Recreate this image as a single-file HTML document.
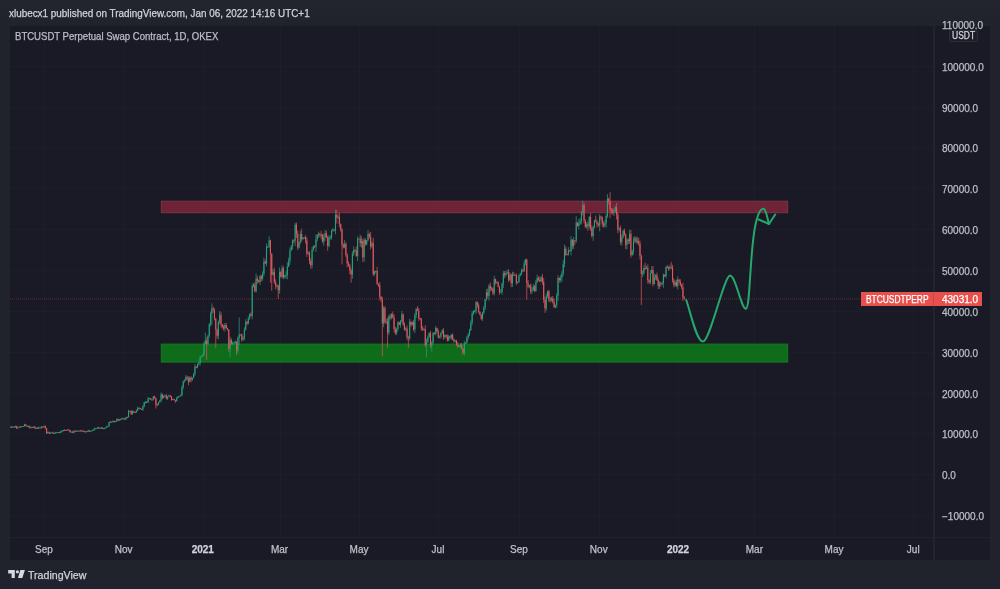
<!DOCTYPE html>
<html><head><meta charset="utf-8"><style>
*{margin:0;padding:0;box-sizing:border-box}
html,body{width:1000px;height:589px;overflow:hidden}
body{background:linear-gradient(#22242e 0px,#20222c 26px,#20222c 560px,#20222d 589px);font-family:"Liberation Sans",Arial,sans-serif;position:relative;-webkit-text-stroke:0.25px currentColor}
#hdr{position:absolute;left:8.5px;top:6.5px;font-size:10.5px;transform:scaleX(0.943);transform-origin:0 0;color:#d1d4dc;white-space:nowrap;letter-spacing:0}
#panel{position:absolute;left:10px;top:26px;width:980px;height:534px;background:#191a25;overflow:visible}
#legend{position:absolute;left:4.5px;top:4.6px;font-size:10.4px;transform:scaleX(0.92);transform-origin:0 0;color:#bcbfc6;white-space:nowrap}
#vax{position:absolute;left:923px;top:0;width:2px;height:534px;background:#22232e}
#hax{position:absolute;left:0;top:511px;width:980px;height:1px;background:#20212c}
.pl{position:absolute;left:932px;font-size:10px;line-height:14px;color:#bcbfc7;white-space:nowrap}
.tl{position:absolute;top:517px;width:40px;text-align:center;font-size:10px;line-height:14px;color:#bec1c8}
.tl.b{font-weight:bold;color:#d1d4dc}
#usdt{position:absolute;left:939px;top:3.5px;width:29px;height:12px;background:#1c1d27;border:1px solid #2a2c37;border-radius:2px;font-size:10px;line-height:10px;color:#d1d4dc;text-align:center}
#usdt span{display:inline-block;transform:scaleX(0.85);position:relative;top:0.6px}
#plbl{position:absolute;left:851px;top:266px;width:121px;height:14px;background:#e8504e;color:#fff;font-size:10px;line-height:14px}
#plbl span{position:absolute;top:1px}
#foot{position:absolute;left:28px;top:568.5px;height:14px;font-size:10.6px;color:#d1d4dc;white-space:nowrap}
</style></head><body>
<div id="hdr">xlubecx1 published on TradingView.com, Jan 06, 2022 14:16 UTC+1</div>
<div id="panel">
<svg width="980" height="534" viewBox="0 0 980 534" style="position:absolute;left:0;top:0"><g stroke="#1d1e29" stroke-width="1"><line x1="34.5" y1="0" x2="34.5" y2="511" /><line x1="114.5" y1="0" x2="114.5" y2="511" /><line x1="193.5" y1="0" x2="193.5" y2="511" /><line x1="270.5" y1="0" x2="270.5" y2="511" /><line x1="349.5" y1="0" x2="349.5" y2="511" /><line x1="428.5" y1="0" x2="428.5" y2="511" /><line x1="509.5" y1="0" x2="509.5" y2="511" /><line x1="589.5" y1="0" x2="589.5" y2="511" /><line x1="668.5" y1="0" x2="668.5" y2="511" /><line x1="744.5" y1="0" x2="744.5" y2="511" /><line x1="824.5" y1="0" x2="824.5" y2="511" /><line x1="903.5" y1="0" x2="903.5" y2="511" /><line x1="0" y1="40.5" x2="923" y2="40.5" /><line x1="0" y1="81.5" x2="923" y2="81.5" /><line x1="0" y1="121.5" x2="923" y2="121.5" /><line x1="0" y1="162.5" x2="923" y2="162.5" /><line x1="0" y1="203.5" x2="923" y2="203.5" /><line x1="0" y1="244.5" x2="923" y2="244.5" /><line x1="0" y1="285.5" x2="923" y2="285.5" /><line x1="0" y1="326.5" x2="923" y2="326.5" /><line x1="0" y1="367.5" x2="923" y2="367.5" /><line x1="0" y1="407.5" x2="923" y2="407.5" /><line x1="0" y1="448.5" x2="923" y2="448.5" /><line x1="0" y1="489.5" x2="923" y2="489.5" /></g><rect x="151.3" y="175.2" width="626.4000000000001" height="11.5" fill="#6e2436" stroke="#7b3446" stroke-width="1"/><rect x="151.3" y="318.1" width="626.4000000000001" height="18" fill="#0e6c1b" stroke="#147a22" stroke-width="1"/><line x1="0" y1="272.92" x2="923" y2="272.92" stroke="#ef5350" stroke-opacity="0.32" stroke-width="1" stroke-dasharray="1 1"/><path d="M0.17 400.36V400.91M2.77 400.59V401.44M5.37 399.69V401.68M7.97 400.91V402.36M9.28 400.42V401.71M11.88 399.90V401.13M13.18 399.99V400.39M14.48 397.72V400.91M18.38 399.51V400.98M20.99 400.67V402.58M23.59 400.33V401.13M26.19 401.50V403.04M28.79 400.58V402.99M31.40 399.94V402.46M34.00 399.65V401.31M37.90 405.78V407.67M40.51 406.67V407.39M41.81 406.22V407.26M44.41 406.64V407.71M45.71 405.87V407.55M47.01 406.14V406.60M48.31 405.76V406.61M50.92 404.56V407.26M52.22 404.16V405.61M53.52 403.86V405.42M57.42 403.33V404.17M61.33 405.45V406.19M63.93 404.42V407.29M66.53 404.52V405.11M67.83 404.51V405.02M70.44 403.86V405.23M76.94 404.92V406.16M78.24 403.77V405.92M80.85 404.83V405.45M82.15 403.85V405.34M83.45 402.67V404.52M84.75 401.49V404.54M86.05 402.03V402.73M87.35 401.32V402.66M89.96 401.34V402.08M91.26 400.93V402.70M93.86 401.93V403.20M95.16 401.23V402.71M96.46 399.87V401.95M97.76 399.85V401.31M99.06 395.81V401.22M100.37 394.87V396.79M102.97 394.29V396.56M105.57 395.07V395.75M106.87 392.52V396.00M109.48 393.24V395.04M110.78 392.41V394.16M112.08 391.64V394.03M115.98 390.85V394.07M117.28 390.53V391.94M118.58 383.59V391.60M122.49 384.10V388.92M126.39 383.44V387.03M127.69 380.69V385.15M128.99 380.96V383.16M132.90 379.12V384.92M134.20 375.53V381.38M135.50 375.14V377.48M136.80 374.98V376.38M138.10 370.92V377.27M139.41 371.88V372.98M143.31 370.09V374.38M148.51 375.85V378.95M149.82 373.86V376.69M151.12 366.48V376.07M153.72 369.07V372.33M155.02 368.66V370.65M157.62 370.14V374.02M158.92 368.74V370.97M162.83 372.76V374.12M166.73 370.77V375.68M168.03 370.01V372.49M169.34 369.72V370.44M170.64 368.44V370.33M171.94 359.45V370.26M173.24 354.17V363.03M174.54 353.34V356.65M175.84 349.19V355.12M179.75 350.44V356.33M182.35 351.48V354.84M183.65 347.14V352.28M184.95 337.89V349.93M187.55 337.48V342.45M188.85 335.35V339.68M190.16 329.80V339.44M191.46 329.57V330.96M192.76 327.72V331.29M194.06 315.46V329.86M195.36 306.54V318.39M197.96 308.86V319.69M199.27 297.10V311.52M200.57 285.58V300.47M201.87 277.33V299.19M208.37 294.46V313.41M209.68 284.89V298.37M214.88 297.00V305.48M220.09 310.63V330.85M222.69 315.26V319.32M223.99 316.43V318.52M225.29 314.31V317.89M227.89 310.57V327.44M229.19 291.43V318.80M230.50 308.36V309.01M233.10 310.07V314.74M234.40 301.25V314.27M235.70 293.12V304.65M238.30 290.48V298.42M239.61 287.43V293.92M242.21 257.52V293.47M243.51 257.27V261.54M246.11 247.58V266.52M250.02 248.80V258.97M252.62 245.19V254.63M253.92 231.41V249.93M256.52 217.45V240.42M257.82 219.94V221.49M259.12 210.34V221.98M263.03 243.01V249.31M269.54 241.55V267.72M272.14 239.31V252.65M274.74 248.74V252.48M276.04 245.25V252.99M277.34 236.28V253.33M278.64 231.58V241.24M279.95 221.60V238.91M281.25 218.95V225.11M282.55 213.29V223.41M285.15 196.66V219.94M289.05 215.28V222.53M290.36 204.77V218.17M292.96 210.93V213.62M294.26 211.02V212.50M298.16 225.25V229.04M302.07 221.00V242.38M303.37 219.18V225.49M305.97 208.31V225.93M307.27 208.25V215.61M308.57 205.60V211.76M313.78 207.82V219.76M315.08 203.87V214.77M318.98 209.27V221.33M320.29 209.32V213.65M321.59 203.65V213.58M322.89 201.88V205.57M325.49 183.53V208.33M328.09 188.11V192.82M334.60 213.86V222.42M342.41 225.33V252.82M343.71 220.50V230.00M347.61 210.32V235.12M348.91 212.28V213.00M351.52 210.44V221.67M354.12 212.07V235.88M356.72 213.91V219.40M358.02 203.98V215.37M361.93 215.27V221.85M364.53 244.55V249.69M365.83 244.75V247.37M373.64 279.81V301.18M376.24 292.64V298.13M378.84 288.70V309.07M381.45 287.19V293.24M386.65 301.76V309.34M387.95 295.14V304.96M390.56 293.98V301.71M391.86 284.69V296.71M395.76 300.96V305.13M399.67 292.78V314.43M402.27 295.41V299.57M404.87 286.98V307.16M406.17 281.94V292.09M413.98 301.91V304.58M416.58 312.67V331.05M417.88 309.16V316.94M419.18 306.42V311.94M421.79 315.12V325.54M423.09 305.94V318.43M425.69 299.91V309.43M429.60 309.33V312.37M430.90 306.16V312.85M432.20 303.13V308.10M434.80 308.29V312.79M438.70 308.91V315.22M441.31 308.18V313.91M445.21 313.81V316.33M449.11 318.49V321.10M450.42 317.12V322.20M454.32 314.76V329.62M455.62 316.28V318.15M456.92 310.14V317.51M458.22 306.97V313.51M459.53 302.72V310.31M460.83 294.26V305.06M462.13 285.08V299.09M463.43 284.11V289.07M464.73 283.60V286.43M466.03 275.22V287.82M472.54 285.71V294.96M473.84 279.84V288.43M475.14 272.83V283.98M476.44 263.16V274.88M479.04 257.92V274.43M484.25 249.73V269.31M490.76 263.04V266.71M492.06 256.43V268.81M493.36 244.86V261.84M495.96 244.76V250.62M497.26 243.80V248.21M499.87 246.36V255.05M502.47 245.61V260.90M507.67 255.42V257.72M508.97 248.47V256.70M510.28 246.89V250.47M511.58 242.44V249.29M514.18 234.04V246.07M515.48 232.83V239.30M519.38 259.00V262.26M521.99 261.40V267.72M523.29 257.89V264.70M525.89 253.66V265.94M527.19 248.48V257.15M531.10 250.10V256.03M536.30 267.45V284.93M537.60 264.53V271.82M541.51 270.65V275.49M545.41 278.66V282.21M546.71 267.09V282.10M548.01 249.06V274.81M550.62 249.04V256.55M551.92 245.08V255.71M553.22 234.14V250.11M554.52 218.66V241.23M557.12 227.51V229.12M558.42 221.29V229.56M561.03 209.99V229.43M563.63 210.96V223.33M566.23 190.10V216.70M568.83 193.01V203.45M570.14 191.90V198.99M571.44 184.90V198.54M572.74 174.60V189.30M576.64 196.33V202.52M579.24 189.97V202.90M583.15 199.87V214.84M584.45 193.73V202.52M589.66 188.16V205.25M594.86 194.09V201.41M596.16 187.76V201.57M597.46 168.20V191.84M603.97 181.77V189.97M605.27 179.41V186.68M609.17 201.47V205.47M611.78 208.43V219.62M613.08 203.57V212.69M616.98 212.56V223.50M619.58 203.69V217.97M622.19 223.63V229.72M623.49 210.91V228.66M624.79 209.95V216.74M627.39 210.86V218.06M632.60 244.11V251.10M633.90 239.15V249.09M636.50 239.92V242.89M640.41 244.04V258.44M641.71 240.31V247.91M644.31 247.42V258.68M645.61 248.36V254.00M649.51 255.05V262.92M652.12 255.41V258.99M653.42 247.47V261.78M656.02 240.15V252.39M659.93 238.82V243.88M665.13 254.35V261.09M667.73 250.32V263.36" stroke="#2aa07c" stroke-width="0.7" fill="none"/><path d="M1.47 400.32V401.40M4.07 400.07V401.11M6.67 399.66V403.10M10.58 400.40V401.17M15.78 397.99V400.21M17.08 399.34V401.04M19.69 399.65V402.48M22.29 400.74V401.51M24.89 399.85V402.98M27.49 401.32V402.88M30.10 401.50V402.29M32.70 400.59V401.58M35.30 399.48V402.95M36.60 401.93V408.05M39.21 405.40V408.26M43.11 405.63V407.98M49.62 406.01V406.79M54.82 403.21V404.70M56.12 403.74V404.12M58.72 403.28V404.36M60.03 403.89V406.41M62.63 405.05V407.11M65.23 404.36V405.58M69.14 404.53V405.08M71.74 404.37V405.08M73.04 403.80V406.03M74.34 405.08V405.64M75.64 405.07V406.25M79.55 403.92V405.67M88.65 400.66V402.52M92.56 401.23V402.69M101.67 395.54V395.91M104.27 394.59V396.48M108.17 392.48V394.70M113.38 392.29V392.91M114.68 392.40V394.00M119.89 384.74V385.36M121.19 384.16V389.08M123.79 384.85V386.70M125.09 385.55V386.78M130.30 381.83V383.51M131.60 382.83V383.60M140.71 371.98V373.92M142.01 373.41V374.45M144.61 369.56V372.49M145.91 371.49V382.52M147.21 377.45V380.15M152.42 367.69V373.36M156.32 368.23V373.39M160.23 368.91V371.52M161.53 369.91V374.75M164.13 372.67V374.53M165.43 373.94V376.80M177.14 349.74V354.15M178.44 350.25V359.24M181.05 350.25V356.38M186.25 340.04V341.87M196.66 311.44V333.91M203.17 280.34V286.72M204.47 282.27V294.34M205.77 292.24V322.06M207.07 302.45V312.55M210.98 285.89V301.50M212.28 297.63V302.68M213.58 298.76V304.57M216.18 296.92V303.00M217.48 301.70V304.56M218.78 303.27V325.74M221.39 312.44V318.88M226.59 315.53V329.01M231.80 307.49V315.81M237.00 294.94V299.45M240.91 286.21V290.79M244.81 256.21V266.28M247.41 250.05V257.77M248.71 253.68V256.74M251.32 248.72V255.43M255.22 233.37V237.89M260.43 213.81V256.70M261.73 227.29V264.88M264.33 241.64V257.88M265.63 253.27V263.25M266.93 258.36V261.11M268.23 258.34V273.05M270.84 244.61V251.73M273.44 240.33V253.09M283.85 213.46V217.37M286.45 196.51V211.95M287.75 204.53V224.04M291.66 202.71V215.90M295.56 209.24V217.56M296.86 211.37V230.76M299.47 225.21V238.26M300.77 232.19V242.82M304.67 219.25V222.24M309.88 206.92V211.27M311.18 204.74V213.43M312.48 207.81V216.77M316.38 204.66V212.11M317.68 209.66V224.83M324.19 203.50V205.50M326.79 183.79V197.47M329.40 186.70V201.29M330.70 197.57V205.64M332.00 201.97V238.32M333.30 217.19V222.43M335.90 216.10V231.05M337.20 227.31V241.42M338.50 235.31V240.60M339.81 237.77V248.28M341.11 242.41V256.70M345.01 223.18V226.04M346.31 220.51V231.04M350.22 208.85V220.93M352.82 212.84V235.75M355.42 212.23V219.75M359.32 206.66V212.69M360.63 205.95V223.44M363.23 211.77V250.17M367.13 240.80V259.11M368.43 257.43V261.03M369.74 255.96V274.20M371.04 269.89V276.10M372.34 271.00V330.23M374.94 280.11V297.62M377.54 291.84V321.66M380.15 287.87V294.36M382.75 285.47V292.35M384.05 288.32V306.38M385.35 300.82V308.60M389.25 295.77V299.16M393.16 287.44V299.96M394.46 296.39V304.69M397.06 299.36V314.11M398.36 309.81V322.06M400.97 294.73V300.98M403.57 293.84V305.26M407.47 280.12V285.14M408.77 281.91V294.87M410.08 291.79V294.33M411.38 292.01V305.10M412.68 300.02V304.82M415.28 299.32V321.15M420.49 304.81V322.05M424.39 306.39V308.69M426.99 301.49V306.57M428.29 303.49V312.38M433.50 302.07V313.83M436.10 308.75V312.15M437.40 308.29V315.62M440.01 309.64V312.90M442.61 307.26V314.30M443.91 312.41V316.86M446.51 313.66V319.65M447.81 316.09V321.93M451.72 317.25V323.45M453.02 322.06V329.01M467.33 275.23V281.73M468.63 277.24V287.13M469.94 285.35V289.39M471.24 288.16V294.11M477.74 262.56V272.74M480.35 256.49V265.50M481.65 260.61V264.78M482.95 261.39V269.29M485.55 252.47V258.49M486.85 255.45V257.57M488.15 255.10V261.33M489.45 259.88V268.86M494.66 245.07V252.08M498.56 243.16V256.11M501.17 247.53V261.15M503.77 245.91V250.08M505.07 248.83V249.67M506.37 247.12V259.21M512.88 242.64V245.99M516.78 232.60V273.86M518.08 253.98V262.31M520.69 257.44V268.12M524.59 258.86V266.21M528.49 250.31V255.09M529.80 250.67V256.26M532.40 247.84V258.89M533.70 252.23V276.92M535.00 270.59V286.93M538.90 263.83V276.01M540.21 270.95V276.56M542.81 270.04V277.47M544.11 272.83V282.23M549.31 251.18V256.74M555.82 220.22V229.78M559.73 224.00V225.52M562.33 212.96V223.08M564.93 214.02V218.54M567.53 196.09V200.44M574.04 176.49V197.52M575.34 193.25V202.17M577.94 195.45V204.80M580.55 186.94V204.70M581.85 199.12V211.61M585.75 189.55V196.09M587.05 193.71V201.65M588.35 196.50V200.75M590.96 189.52V194.20M592.26 190.53V200.92M593.56 195.25V201.68M598.76 171.62V178.66M600.07 166.02V192.16M601.37 182.00V187.91M602.67 182.21V188.76M606.57 176.94V193.46M607.87 186.04V207.25M610.48 199.59V218.63M614.38 202.50V209.75M615.68 207.17V222.97M618.28 212.29V218.10M620.89 203.90V231.65M626.09 210.51V217.57M628.69 211.73V219.80M630.00 214.57V233.49M631.30 228.52V279.17M635.20 236.69V244.04M637.80 238.26V257.67M639.10 253.26V257.84M643.01 240.00V260.60M646.91 246.49V255.00M648.21 251.76V262.95M650.82 255.97V260.96M654.72 248.48V251.11M657.32 238.87V242.31M658.62 240.39V245.02M661.23 235.87V242.61M662.53 238.82V256.59M663.83 252.26V261.23M666.43 253.43V261.19M669.03 252.69V257.38M670.34 253.25V260.20M671.64 257.79V263.14M672.94 256.70V275.09M674.24 270.16V273.52" stroke="#e2585e" stroke-width="0.7" fill="none"/><path d="M0.17 400.66V401.66M2.77 400.70V401.70M5.37 400.17V401.17M7.97 401.44V402.44M9.28 400.58V401.58M11.88 400.25V401.25M13.18 400.05V401.05M14.48 398.50V400.05M18.38 400.21V401.21M20.99 400.99V401.99M23.59 400.66V401.66M26.19 401.85V402.85M28.79 401.56V402.56M31.40 400.86V401.86M34.00 400.01V401.11M37.90 405.93V407.16M40.51 406.83V407.83M41.81 406.34V407.34M44.41 406.91V407.91M45.71 406.46V407.46M47.01 406.26V407.26M48.31 406.05V407.05M50.92 405.07V406.50M52.22 404.62V405.62M53.52 403.97V404.97M57.42 403.44V404.44M61.33 405.68V406.68M63.93 404.83V406.87M66.53 404.87V405.87M67.83 404.70V405.70M70.44 404.42V405.42M76.94 405.11V406.11M78.24 404.62V405.62M80.85 405.11V406.11M82.15 404.09V405.11M83.45 403.52V404.52M84.75 402.54V403.54M86.05 402.21V403.21M87.35 401.52V402.52M89.96 402.01V403.01M91.26 401.72V402.72M93.86 402.25V403.25M95.16 401.68V402.68M96.46 400.70V401.70M97.76 400.01V401.01M99.06 396.33V400.01M100.37 395.68V396.68M102.97 395.10V396.10M105.57 395.31V396.31M106.87 392.94V395.31M109.48 393.72V394.72M110.78 393.31V394.31M112.08 392.33V393.33M115.98 391.39V393.35M117.28 390.90V391.90M118.58 385.01V390.90M122.49 385.46V388.12M126.39 384.57V386.16M127.69 382.20V384.57M128.99 382.03V383.03M132.90 380.40V383.50M134.20 376.56V380.40M135.50 375.99V376.99M136.80 375.91V376.91M138.10 372.47V375.91M139.41 372.31V373.31M143.31 370.43V373.66M148.51 376.31V378.68M149.82 374.43V376.31M151.12 368.23V374.43M153.72 370.19V372.02M155.02 369.37V370.37M157.62 370.47V372.51M158.92 369.61V370.61M162.83 372.96V373.96M166.73 371.90V375.05M168.03 370.39V371.90M169.34 369.98V370.98M170.64 369.33V370.33M171.94 361.53V369.33M173.24 355.56V361.53M174.54 354.21V355.56M175.84 351.23V354.21M179.75 351.40V355.81M182.35 351.76V353.76M183.65 347.76V351.76M184.95 340.49V347.76M187.55 338.08V341.35M188.85 336.93V338.08M190.16 330.89V336.93M191.46 330.23V331.23M192.76 328.72V330.23M194.06 317.45V328.72M195.36 314.79V317.45M197.96 309.85V318.10M199.27 298.29V309.85M200.57 287.87V298.29M201.87 282.56V287.87M208.37 295.96V309.77M209.68 288.77V295.96M214.88 299.07V302.50M220.09 314.10V322.68M222.69 316.80V317.80M223.99 316.47V317.47M225.29 315.65V316.65M227.89 311.98V324.39M229.19 308.50V311.98M230.50 308.50V309.50M233.10 311.69V313.45M234.40 303.64V311.69M235.70 295.64V303.64M238.30 292.29V297.84M239.61 288.32V292.29M242.21 259.97V289.79M243.51 258.83V259.97M246.11 252.74V265.20M250.02 250.25V255.97M252.62 247.72V252.87M253.92 235.67V247.72M256.52 220.39V237.59M257.82 220.39V221.39M259.12 214.18V220.39M263.03 245.76V248.98M269.54 245.96V264.30M272.14 242.24V251.07M274.74 249.52V251.11M276.04 249.03V250.03M277.34 240.49V249.03M278.64 234.73V240.49M279.95 224.52V234.73M281.25 220.51V224.52M282.55 214.51V220.51M285.15 198.74V214.83M289.05 216.26V221.41M290.36 208.05V216.26M292.96 211.65V213.20M294.26 211.36V212.36M298.16 226.72V227.72M302.07 223.90V239.14M303.37 220.51V223.90M305.97 213.28V220.84M307.27 208.79V213.28M308.57 208.01V209.01M313.78 210.95V215.61M315.08 207.15V210.95M318.98 211.40V219.94M320.29 211.36V212.36M321.59 204.54V211.36M322.89 203.60V204.60M325.49 188.98V204.17M328.09 190.69V191.69M334.60 218.02V221.17M342.41 228.03V248.53M343.71 223.90V228.03M347.61 212.79V229.95M348.91 212.46V213.46M351.52 215.04V217.37M354.12 213.94V231.21M356.72 214.30V218.18M358.02 207.97V214.30M361.93 216.88V220.51M364.53 245.59V247.92M365.83 244.94V245.94M373.64 282.11V297.56M376.24 295.39V296.39M378.84 290.41V306.66M381.45 288.16V291.84M386.65 302.95V307.28M387.95 296.17V302.95M390.56 295.19V298.82M391.86 288.57V295.19M395.76 302.46V303.52M399.67 295.96V312.26M402.27 296.17V298.82M404.87 289.30V303.48M406.17 283.18V289.30M413.98 303.27V304.27M416.58 315.94V319.29M417.88 311.12V315.94M419.18 307.11V311.12M421.79 316.84V319.65M423.09 306.95V316.84M425.69 302.01V307.81M429.60 310.63V311.63M430.90 307.11V310.63M432.20 304.54V307.11M434.80 308.91V311.08M438.70 310.59V314.39M441.31 308.75V311.81M445.21 314.63V315.63M449.11 319.90V320.90M450.42 318.88V319.90M454.32 317.41V327.01M455.62 316.71V317.71M456.92 311.53V316.71M458.22 308.63V311.53M459.53 304.09V308.63M460.83 296.45V304.09M462.13 287.51V296.45M463.43 285.30V287.51M464.73 285.26V286.26M466.03 276.19V285.26M472.54 286.44V292.65M473.84 281.75V286.44M475.14 273.78V281.75M476.44 266.47V273.78M479.04 259.65V269.78M484.25 253.31V267.24M490.76 266.02V267.02M492.06 257.69V266.02M493.36 247.19V257.69M495.96 247.31V248.94M497.26 246.33V247.33M499.87 248.58V253.85M502.47 248.25V257.32M507.67 256.01V257.01M508.97 249.23V256.01M510.28 247.39V249.23M511.58 244.33V247.39M514.18 237.22V244.70M515.48 233.46V237.22M519.38 259.16V260.46M521.99 264.22V265.49M523.29 260.54V264.22M525.89 256.26V265.04M527.19 252.01V256.26M531.10 251.35V255.48M536.30 270.72V282.48M537.60 265.32V270.72M541.51 272.19V274.23M545.41 278.93V281.09M546.71 269.78V278.93M548.01 252.05V269.78M550.62 251.68V254.01M551.92 247.51V251.68M553.22 238.36V247.51M554.52 222.64V238.36M557.12 228.23V229.23M558.42 224.19V228.23M561.03 213.85V225.29M563.63 214.34V219.94M566.23 196.78V214.38M568.83 197.35V200.01M570.14 195.27V197.35M571.44 186.12V195.27M572.74 179.09V186.12M576.64 198.29V200.78M579.24 191.02V200.13M583.15 201.19V209.89M584.45 194.41V201.19M589.66 190.41V199.51M594.86 197.35V199.47M596.16 190.04V197.35M597.46 172.80V190.04M603.97 185.63V186.65M605.27 181.13V185.63M609.17 202.13V203.40M611.78 211.28V216.30M613.08 204.70V211.28M616.98 213.53V218.76M619.58 207.85V215.20M622.19 225.17V229.21M623.49 214.75V225.17M624.79 212.59V214.75M627.39 214.96V216.06M632.60 246.90V247.90M633.90 242.04V246.90M636.50 241.84V242.84M640.41 246.94V256.21M641.71 244.04V246.94M644.31 251.19V257.89M645.61 249.11V251.19M649.51 257.32V260.05M652.12 257.20V258.20M653.42 248.78V257.20M656.02 241.10V250.17M659.93 241.26V242.78M665.13 256.21V258.91M667.73 253.76V259.93" stroke="#2aa07c" stroke-width="1.1" fill="none"/><path d="M1.47 400.66V401.66M4.07 400.70V401.70M6.67 400.17V402.13M10.58 400.58V401.58M15.78 398.50V399.80M17.08 399.80V400.80M19.69 400.21V401.64M22.29 400.99V401.99M24.89 400.66V402.34M27.49 401.85V402.85M30.10 401.56V402.56M32.70 400.86V401.86M35.30 400.01V402.13M36.60 402.13V407.16M39.21 405.93V407.16M43.11 406.34V407.34M49.62 406.05V407.05M54.82 403.97V404.97M56.12 404.01V405.01M58.72 403.44V404.44M60.03 404.09V406.13M62.63 405.68V406.87M65.23 404.83V405.83M69.14 404.70V405.70M71.74 404.42V405.42M73.04 404.66V405.66M74.34 405.32V406.32M75.64 405.52V406.52M79.55 404.62V405.62M88.65 401.52V402.52M92.56 401.72V402.72M101.67 395.68V396.68M104.27 395.10V396.10M108.17 392.94V394.45M113.38 392.33V393.33M114.68 392.49V393.49M119.89 385.01V386.01M121.19 385.06V388.12M123.79 385.46V386.46M125.09 386.08V387.08M130.30 382.03V383.05M131.60 383.05V384.05M140.71 372.31V373.45M142.01 373.45V374.45M144.61 370.43V372.23M145.91 372.23V378.64M147.21 378.64V379.64M152.42 368.23V372.02M156.32 369.37V372.51M160.23 369.61V370.61M161.53 370.39V373.86M164.13 372.96V374.15M165.43 374.15V375.15M177.14 351.23V352.78M178.44 352.78V355.81M181.05 351.40V353.76M186.25 340.49V341.49M196.66 314.79V318.10M203.17 282.56V284.32M204.47 284.32V292.49M205.77 292.49V303.52M207.07 303.52V309.77M210.98 288.77V298.29M212.28 298.29V300.90M213.58 300.90V302.50M216.18 299.07V302.09M217.48 302.09V303.81M218.78 303.81V322.68M221.39 314.10V317.65M226.59 315.65V324.39M231.80 308.50V313.45M237.00 295.64V297.84M240.91 288.32V289.79M244.81 258.83V265.20M247.41 252.74V254.62M248.71 254.62V255.97M251.32 250.25V252.87M255.22 235.67V237.59M260.43 214.18V227.74M261.73 227.74V248.98M264.33 245.76V256.38M265.63 256.38V259.40M266.93 259.40V260.40M268.23 260.01V264.30M270.84 245.96V251.07M273.44 242.24V251.11M283.85 214.51V215.51M286.45 198.74V207.69M287.75 207.69V221.41M291.66 208.05V213.20M295.56 211.36V214.43M296.86 214.43V227.70M299.47 226.72V235.05M300.77 235.05V239.14M304.67 220.51V221.51M309.88 208.01V209.01M311.18 208.79V209.79M312.48 208.83V215.61M316.38 207.15V211.52M317.68 211.52V219.94M324.19 203.60V204.60M326.79 188.98V191.51M329.40 190.69V198.17M330.70 198.17V203.40M332.00 203.40V219.12M333.30 219.12V221.17M335.90 218.02V228.93M337.20 228.93V237.51M338.50 237.51V239.59M339.81 239.59V244.25M341.11 244.25V248.53M345.01 223.90V224.90M346.31 224.76V229.95M350.22 212.46V217.37M352.82 215.04V231.21M355.42 213.94V218.18M359.32 207.97V210.63M360.63 210.63V220.51M363.23 216.88V247.92M367.13 244.94V257.69M368.43 257.69V258.95M369.74 258.95V270.84M371.04 270.84V273.41M372.34 273.41V297.56M374.94 282.11V296.21M377.54 295.39V306.66M380.15 290.41V291.84M382.75 288.16V291.55M384.05 291.55V302.91M385.35 302.91V307.28M389.25 296.17V298.82M393.16 288.57V298.13M394.46 298.13V303.52M397.06 302.46V311.48M398.36 311.48V312.48M400.97 295.96V298.82M403.57 296.17V303.48M407.47 283.18V284.69M408.77 284.69V292.04M410.08 292.04V293.27M411.38 293.27V302.46M412.68 302.46V303.76M415.28 303.27V319.29M420.49 307.11V319.65M424.39 306.95V307.95M426.99 302.01V305.56M428.29 305.56V311.57M433.50 304.54V311.08M436.10 308.91V310.38M437.40 310.38V314.39M440.01 310.59V311.81M442.61 308.75V313.53M443.91 313.53V315.00M446.51 314.63V318.88M447.81 318.88V320.47M451.72 318.88V322.72M453.02 322.72V327.01M467.33 276.19V279.34M468.63 279.34V285.91M469.94 285.91V288.77M471.24 288.77V292.65M477.74 266.47V269.78M480.35 259.65V262.46M481.65 262.46V263.46M482.95 262.59V267.24M485.55 253.31V256.30M486.85 256.30V257.30M488.15 256.50V260.79M489.45 260.79V266.14M494.66 247.19V248.94M498.56 246.33V253.85M501.17 248.58V257.32M503.77 248.25V249.25M505.07 248.94V249.94M506.37 249.31V256.75M512.88 244.33V245.33M516.78 233.46V257.28M518.08 257.28V260.46M520.69 259.16V265.49M524.59 260.54V265.04M528.49 252.01V253.64M529.80 253.64V255.48M532.40 251.35V255.64M533.70 255.64V273.70M535.00 273.70V282.48M538.90 265.32V273.70M540.21 273.70V274.70M542.81 272.19V276.19M544.11 276.19V281.09M549.31 252.05V254.01M555.82 222.64V228.93M559.73 224.19V225.29M562.33 213.85V219.94M564.93 214.34V215.34M567.53 196.78V200.01M574.04 179.09V194.57M575.34 194.57V200.78M577.94 198.29V200.13M580.55 191.02V202.25M581.85 202.25V209.89M585.75 194.41V195.92M587.05 195.92V198.21M588.35 198.21V199.51M590.96 190.41V191.59M592.26 191.59V197.72M593.56 197.72V199.47M598.76 172.80V175.21M600.07 175.21V183.67M601.37 183.67V184.67M602.67 184.07V186.65M606.57 181.13V188.85M607.87 188.85V203.40M610.48 202.13V216.30M614.38 204.70V208.79M615.68 208.79V218.76M618.28 213.53V215.20M620.89 207.85V229.21M626.09 212.59V216.06M628.69 214.96V217.86M630.00 217.86V229.74M631.30 229.74V247.72M635.20 242.04V243.04M637.80 241.84V254.29M639.10 254.29V256.21M643.01 244.04V257.89M646.91 249.11V254.09M648.21 254.09V260.05M650.82 257.32V258.32M654.72 248.78V250.17M657.32 241.10V242.10M658.62 241.18V242.78M661.23 241.26V242.26M662.53 241.59V254.50M663.83 254.50V258.91M666.43 256.21V259.93M669.03 253.76V255.52M670.34 255.52V259.03M671.64 259.03V261.48M672.94 261.48V271.33M674.24 271.33V272.92" stroke="#e2585e" stroke-width="1.1" fill="none"/><g transform="translate(-10,-26)" stroke="#26a86c" stroke-width="2" fill="none" stroke-linecap="round" stroke-linejoin="round"><path d="M686.3 300 C692 318, 697 342, 703 341.6 C710 341, 724 276, 730 275.6 C736 276, 741 309, 746 308.7 C750.2 308, 749.8 252, 755.2 226 C757.5 215, 760.5 208.5, 763.6 208.8 C766 209, 767.5 219, 769 224"/><path d="M758.7 219.5 L769 224 L775.2 214.5"/></g></svg>
<div id="vax"></div><div id="hax"></div>
<div id="legend">BTCUSDT Perpetual Swap Contract, 1D, OKEX</div>
<div class="pl" style="top:-7.1px">110000.0</div><div class="pl" style="top:34.7px">100000.0</div><div class="pl" style="top:75.6px">90000.0</div><div class="pl" style="top:116.4px">80000.0</div><div class="pl" style="top:157.2px">70000.0</div><div class="pl" style="top:198.1px">60000.0</div><div class="pl" style="top:238.9px">50000.0</div><div class="pl" style="top:279.8px">40000.0</div><div class="pl" style="top:320.6px">30000.0</div><div class="pl" style="top:361.5px">20000.0</div><div class="pl" style="top:402.4px">10000.0</div><div class="pl" style="top:443.2px">0.0</div><div class="pl" style="top:484.1px">−10000.0</div>
<div id="usdt"><span>USDT</span></div>
<div id="plbl"><span style="left:5px;transform:scaleX(0.84);transform-origin:0 0">BTCUSDTPERP</span><span style="left:81px">43031.0</span><i style="position:absolute;left:72px;top:0;width:1px;height:14px;background:rgba(0,0,0,0.12)"></i></div>
<div class="tl" style="left:14.00px">Sep</div><div class="tl" style="left:93.60px">Nov</div><div class="tl b" style="left:172.75px">2021</div><div class="tl" style="left:249.60px">Mar</div><div class="tl" style="left:329.00px">May</div><div class="tl" style="left:408.00px">Jul</div><div class="tl" style="left:489.00px">Sep</div><div class="tl" style="left:568.75px">Nov</div><div class="tl b" style="left:648.00px">2022</div><div class="tl" style="left:724.40px">Mar</div><div class="tl" style="left:804.00px">May</div><div class="tl" style="left:883.25px">Jul</div>
</div>
<svg width="18" height="9" viewBox="0 0 18 9" style="position:absolute;left:8px;top:570px"><path d="M0.2 0H6.8V8.1H3.6V3.4H0.2Z" fill="#d7d9e0"/><circle cx="9.4" cy="1.8" r="1.6" fill="#d7d9e0"/><path d="M12.3 0H16.9L14.3 8.1H10Z" fill="#d7d9e0"/></svg><div id="foot">TradingView</div>
</body></html>
